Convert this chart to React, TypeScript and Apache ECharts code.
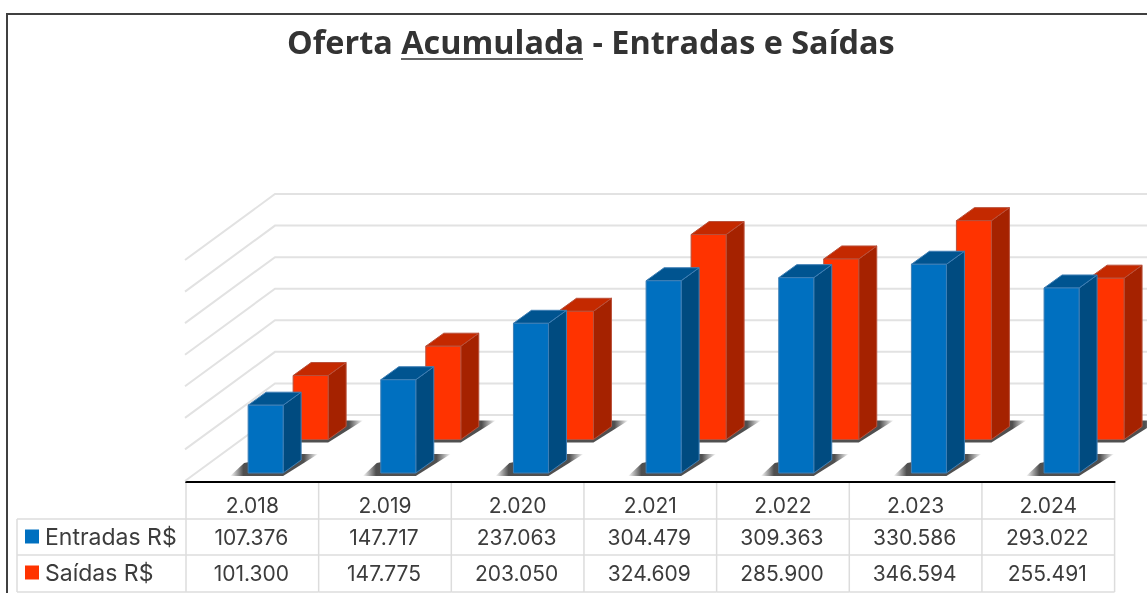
import React, { useEffect, useRef } from "react";
import * as echarts from "echarts";

const titleText = "Oferta Acumulada - Entradas e Saídas";
const categories = ["2.018", "2.019", "2.020", "2.021", "2.022", "2.023", "2.024"];
const entradas = [107376, 147717, 237063, 304479, 309363, 330586, 293022];
const saidas = [101300, 147775, 203050, 324609, 285900, 346594, 255491];
const gridTicks = [0, 50000, 100000, 150000, 200000, 250000, 300000, 350000];

const fmt = (v: number) => String(v).replace(/\B(?=(\d{3})+$)/g, ".");
const FONT = "Inter";
const TXT = "#3c3c3c";
const TXT_SIZE = 21;
const BAR_W = 35;
const DX = 18;
const DY = 13;

function barSeries(name: string, values: number[], opts: any) {
  return {
    type: "custom",
    name,
    z: opts.z,
    silent: true,
    itemStyle: { color: opts.front },
    data: values.map((v, i) => [i, v]),
    renderItem: (_p: any, api: any) => {
      const top = api.coord([api.value(0), api.value(1)]);
      const base = api.coord([api.value(0), 0]);
      const x0 = base[0] + opts.dx;
      const x1 = x0 + BAR_W;
      const yb = base[1] + opts.dy;
      const yt = top[1] + opts.dy;
      const edge = { stroke: opts.edge, lineWidth: 1 };
      return {
        type: "group",
        children: [
          {
            type: "polygon",
            shape: {
              points: [[x0 - 18, yb + 3], [x1, yb + 3], [x1 + 35, yb - 19], [x1 + 5, yb - 19], [x0 - 4, yb - 10]],
            },
            style: {
              fill: new echarts.graphic.LinearGradient(0, 0, 1, 0, [
                { offset: 0, color: "rgba(60,60,60,0)" },
                { offset: 0.15, color: "rgba(60,60,60,0.9)" },
                { offset: 0.84, color: "rgba(60,60,60,0.9)" },
                { offset: 1, color: "rgba(60,60,60,0)" },
              ]),
            },
          },
          {
            type: "polygon",
            shape: { points: [[x1, yb], [x1 + DX, yb - DY], [x1 + DX, yt - DY], [x1, yt]] },
            style: { fill: opts.side, ...edge },
          },
          {
            type: "polygon",
            shape: { points: [[x0, yt], [x1, yt], [x1 + DX, yt - DY], [x0 + DX, yt - DY]] },
            style: { fill: opts.top, ...edge },
          },
          {
            type: "rect",
            shape: { x: x0, y: yt, width: BAR_W, height: yb - yt },
            style: { fill: opts.front, ...edge },
          },
        ],
      };
    },
  };
}

export default function App() {
  const ref = useRef<HTMLDivElement>(null);
  useEffect(() => {
    const chart = echarts.init(ref.current!, undefined, { renderer: "svg" });
    const wallSeries = {
      type: "custom",
      name: "grade",
      z: 1,
      silent: true,
      data: gridTicks.map((v) => [0, v]),
      renderItem: (p: any, api: any) => {
        const y = api.coord([0, api.value(1)])[1];
        const x = p.coordSys.x;
        return {
          type: "polyline",
          shape: { points: [[x - 1, y + 8], [x + 89, y - 58], [1160, y - 58]] },
          style: { stroke: "#e2e2e2", lineWidth: 2, fill: "none" },
        };
      },
    };
    const line = (x1: number, y1: number, x2: number, y2: number) => ({
      type: "line",
      shape: { x1, y1, x2, y2 },
      style: { stroke: "#dcdcdc", lineWidth: 1.5 },
    });
    const cell = (x: number, y: number, text: string) => ({
      type: "text",
      style: { x, y, text, fill: TXT, fontFamily: FONT, fontSize: TXT_SIZE, align: "center", verticalAlign: "middle" },
    });
    const tableSeries = {
      type: "custom",
      name: "tabela",
      z: 4,
      silent: true,
      data: categories.map((_, i) => [i, 0]),
      renderItem: (p: any, api: any) => {
        const i = api.value(0);
        const cx = api.coord([i, 0])[0];
        const w = api.size([1, 0])[0];
        const l = cx - w / 2;
        const r = cx + w / 2;
        const children: any[] = [
          line(l, 483, l, 592),
          line(l, 519, r, 519),
          line(l, 555, r, 555),
          line(l, 592, r, 592),
          cell(cx - 1, 537, fmt(entradas[i])),
          cell(cx - 1, 573, fmt(saidas[i])),
        ];
        if (i === categories.length - 1) children.push(line(r, 483, r, 592));
        if (i === 0) {
          children.push(line(17, 519, l, 519), line(17, 555, l, 555), line(17, 592, l, 592), line(17, 519, 17, 592));
        }
        return { type: "group", children };
      },
    };
    chart.setOption({
      animation: false,
      backgroundColor: "#ffffff",
      title: {
        text: titleText,
        left: 287,
        top: 25,
        padding: 0,
        textStyle: { fontFamily: "Open Sans", fontWeight: "bold", fontSize: 32.4, color: "#333333" },
      },
      legend: {
        orient: "vertical",
        left: 25,
        top: 525,
        padding: 0,
        itemWidth: 14,
        itemHeight: 14,
        itemGap: 13,
        selectedMode: false,
        icon: "rect",
        data: ["Entradas R$", "Saídas R$"],
        textStyle: { fontFamily: FONT, fontSize: 23, color: TXT, padding: [0, 0, 0, 1] },
      },
      grid: { left: 186, width: 928.6, top: 252, height: 221 },
      xAxis: {
        type: "category",
        data: categories,
        offset: 9,
        axisLine: { show: true, onZero: false, lineStyle: { color: "#000000", width: 2 } },
        axisTick: { show: false },
        splitLine: { show: false },
        axisLabel: { fontFamily: FONT, fontSize: TXT_SIZE, color: TXT, margin: 13, interval: 0 },
      },
      yAxis: { type: "value", min: 0, max: 350000, interval: 50000, show: false },
      graphic: [
        {
          type: "polyline",
          shape: { points: [[7, 593], [7, 14], [1147, 14]] },
          style: { stroke: "#404040", lineWidth: 2, fill: "none" },
        },
        {
          type: "line",
          shape: { x1: 401, y1: 59, x2: 583, y2: 59 },
          style: { stroke: "#333333", lineWidth: 1.5 },
        },
      ],
      series: [
        wallSeries,
        barSeries("Saídas R$", saidas, {
          z: 2, dx: 40.8, dy: -33.5, front: "#ff3300", side: "#a52200", top: "#c42900", edge: "#b9503a",
        }),
        barSeries("Entradas R$", entradas, {
          z: 3, dx: -4.2, dy: 0, front: "#0070c0", side: "#004b80", top: "#005490", edge: "#3f7fb5",
        }),
        tableSeries,
      ],
    });
    return () => chart.dispose();
  }, []);
  return (
    <div
      ref={ref}
      style={{ position: "absolute", left: 0, top: 0, width: 1147, height: 593, filter: "blur(0.4px)" }}
    />
  );
}
